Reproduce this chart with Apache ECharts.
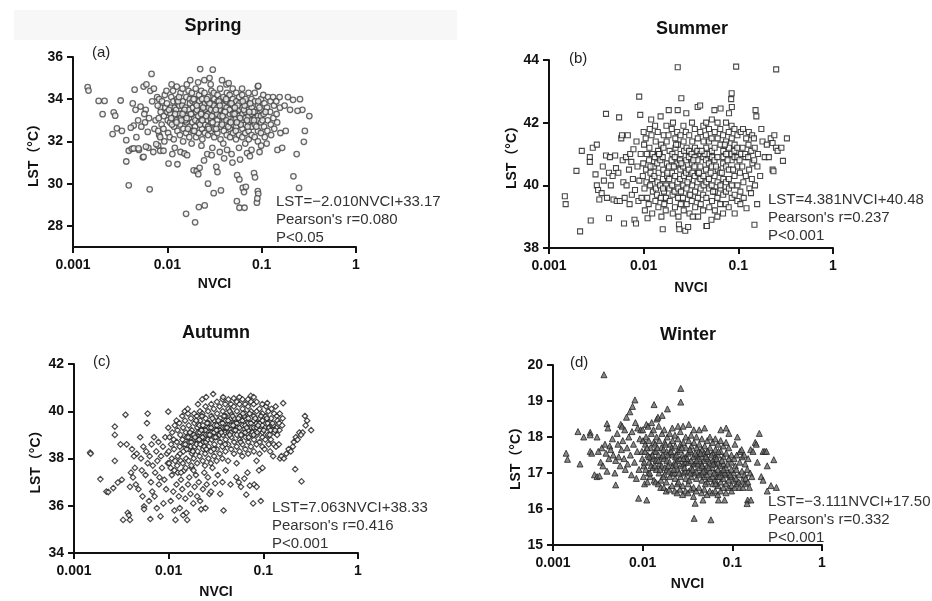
<!DOCTYPE html>
<html>
<head>
<meta charset="utf-8">
<title>LST vs NVCI by season</title>
<script src="https://cdn.jsdelivr.net/npm/echarts@6/dist/echarts.min.js"></script>
<style>html,body{margin:0;background:#fff}#chart{width:932px;height:601px}</style>
</head>
<body>
<div id="chart"></div>
<script>
// [NVCI, LST] pairs
const springPoints = [
  [0.00143,34.57],[0.00146,34.41],[0.00187,33.92],[0.00216,33.92],[0.00206,33.29],[0.00263,32.35],[0.0027,33.38],[0.0028,33.22],
  [0.00292,32.62],[0.0032,33.94],[0.0033,32.5],[0.00367,32.06],[0.00367,31.05],[0.0039,29.92],[0.0039,31.56],[0.0042,31.65],
  [0.0044,32.75],[0.0041,32.65],[0.0045,34.45],[0.0043,33.8],[0.0047,32.2],[0.005,31.6],[0.0052,33.65],[0.0055,31.25],
  [0.0056,34.6],[0.0058,32.9],[0.006,34.7],[0.0059,33.5],[0.0062,32.45],[0.0065,29.73],[0.0063,31.7],[0.0068,35.2],
  [0.0066,34.4],[0.0069,33.9],[0.0071,31.5],[0.0073,32.6],[0.0075,33.0],[0.0078,34.1],[0.008,31.8],[0.0082,32.3],
  [0.0085,33.6],[0.0049,33.0],[0.0053,32.7],[0.0057,33.3],[0.0044,31.67],[0.00495,31.67],[0.0056,31.27],[0.00593,31.75],
  [0.00763,31.87],[0.0084,31.56],[0.0091,31.56],[0.0046,33.5],[0.0064,33.1],[0.0072,34.5],
  [0.0079,33.7],[0.0081,33.1],[0.0080,32.5],[0.0082,34.0],
  [0.0085,33.4],[0.0087,32.8],[0.0088,33.9],[0.0084,32.2],
  [0.0092,33.2],[0.0094,34.2],[0.0091,32.6],[0.0095,33.6],[0.0093,32.0],
  [0.0099,33.8],[0.0101,33.0],[0.0102,32.4],[0.0098,34.4],[0.0100,33.4],
  [0.0107,32.9],[0.0109,33.6],[0.0110,34.1],[0.0106,32.2],[0.0108,33.3],[0.0111,34.7],
  [0.0116,33.9],[0.0118,32.7],[0.0119,33.2],[0.0115,34.4],[0.0117,32.1],[0.0120,33.6],
  [0.0125,33.0],[0.0127,34.0],[0.0128,32.5],[0.0124,33.5],[0.0126,34.6],[0.0129,33.8],
  [0.0135,33.3],[0.0137,32.8],[0.0138,34.3],[0.0134,33.7],[0.0136,32.3],[0.0139,33.1],
  [0.0146,33.9],[0.0148,32.6],[0.0149,33.4],[0.0145,34.5],[0.0147,32.0],[0.0150,33.0],[0.0144,33.7],
  [0.0157,33.2],[0.0159,34.1],[0.0160,32.9],[0.0156,33.6],[0.0158,32.4],[0.0161,34.7],[0.0155,33.0],
  [0.0170,33.5],[0.0172,32.7],[0.0173,34.0],[0.0169,33.1],[0.0171,32.2],[0.0174,33.8],[0.0168,34.4],
  [0.0183,33.3],[0.0185,33.9],[0.0186,32.5],[0.0182,34.3],[0.0184,32.9],[0.0187,33.6],[0.0181,31.9],
  [0.0198,33.0],[0.0200,34.5],[0.0201,33.4],[0.0197,32.7],[0.0199,33.8],[0.0202,32.2],[0.0196,34.0],
  [0.0214,33.6],[0.0216,32.9],[0.0217,34.2],[0.0213,33.2],[0.0215,32.4],[0.0218,33.9],[0.0212,34.8],
  [0.0231,33.4],[0.0233,32.6],[0.0234,34.0],[0.0230,33.0],[0.0232,33.7],[0.0235,32.1],[0.0229,34.4],
  [0.0249,33.1],[0.0251,33.8],[0.0252,32.8],[0.0248,34.3],[0.0250,32.4],[0.0253,33.5],[0.0247,34.9],
  [0.0269,33.3],[0.0271,32.7],[0.0272,34.1],[0.0268,33.9],[0.0270,32.3],[0.0273,33.6],[0.0267,33.0],
  [0.0290,33.5],[0.0292,32.9],[0.0293,34.4],[0.0289,33.1],[0.0291,32.5],[0.0294,33.8],[0.0288,34.7],
  [0.0313,33.2],[0.0315,34.0],[0.0316,32.6],[0.0312,33.7],[0.0314,32.2],[0.0317,33.4],[0.0311,34.3],
  [0.0338,33.0],[0.0340,33.6],[0.0341,34.2],[0.0337,32.8],[0.0339,32.4],[0.0342,33.9],[0.0336,33.3],
  [0.0365,33.5],[0.0367,32.7],[0.0368,34.0],[0.0364,33.2],[0.0366,32.1],[0.0369,33.8],[0.0363,34.5],
  [0.0394,33.1],[0.0396,33.7],[0.0397,32.5],[0.0393,34.1],[0.0395,32.9],[0.0398,33.4],[0.0392,31.9],
  [0.0425,33.6],[0.0427,32.8],[0.0428,34.3],[0.0424,33.0],[0.0426,32.3],[0.0429,33.9],[0.0423,34.7],
  [0.0459,33.3],[0.0461,32.6],[0.0462,33.8],[0.0458,34.2],[0.0460,32.9],[0.0463,32.2],[0.0457,33.5],
  [0.0495,33.0],[0.0497,33.7],[0.0498,32.4],[0.0494,34.0],[0.0496,33.3],[0.0499,32.8],[0.0493,34.5],
  [0.0534,33.4],[0.0536,32.7],[0.0537,33.9],[0.0533,33.1],[0.0535,32.1],[0.0538,34.3],[0.0532,32.5],
  [0.0577,33.2],[0.0579,33.8],[0.0580,32.9],[0.0576,32.3],[0.0578,34.1],[0.0581,33.5],[0.0575,31.7],
  [0.0622,33.0],[0.0624,33.6],[0.0625,32.6],[0.0621,34.2],[0.0623,32.2],[0.0626,33.3],[0.0620,34.5],
  [0.0672,33.4],[0.0674,32.8],[0.0675,33.9],[0.0671,32.4],[0.0673,33.1],[0.0676,34.0],[0.0670,31.9],
  [0.0725,33.2],[0.0727,33.7],[0.0728,32.5],[0.0724,32.9],[0.0726,34.3],[0.0729,32.1],[0.0723,33.5],
  [0.0782,33.0],[0.0784,33.6],[0.0785,32.7],[0.0781,34.0],[0.0783,32.3],[0.0786,33.3],[0.0780,31.6],
  [0.0844,33.4],[0.0846,32.8],[0.0847,33.9],[0.0843,32.2],[0.0845,34.3],[0.0848,33.1],
  [0.0911,33.2],[0.0913,33.7],[0.0914,32.5],[0.0910,34.6],[0.0912,32.0],[0.0915,33.0],
  [0.0983,33.5],[0.0985,32.9],[0.0986,34.0],[0.0982,32.4],[0.0984,33.2],[0.0987,31.8],
  [0.105,33.3],[0.107,33.8],[0.106,32.7],[0.108,32.2],[0.104,34.2],
  [0.114,33.6],[0.116,33.0],[0.115,32.5],[0.117,34.1],[0.113,31.9],
  [0.123,33.4],[0.125,32.8],[0.124,33.9],[0.126,32.3],
  [0.133,33.1],[0.135,33.7],[0.136,32.6],[0.132,34.1],
  [0.144,33.3],[0.146,32.9],[0.147,31.6],[0.143,33.9],
  [0.156,33.6],[0.158,32.4],[0.155,34.1],
  [0.175,33.7],[0.19,34.1],[0.20,33.5],[0.217,30.35],[0.235,31.4],[0.249,29.8],[0.255,34.0],[0.27,33.5],
  [0.287,32.5],[0.28,31.98],[0.32,33.2],[0.215,33.97],[0.24,33.45],[0.165,31.7],[0.18,32.5],
  [0.0103,30.95],[0.0113,31.4],[0.0128,30.92],[0.0138,31.5],[0.0152,31.43],[0.0162,31.35],[0.0158,28.57],[0.0197,28.17],
  [0.0216,28.89],[0.0249,28.97],[0.019,30.63],[0.0205,30.6],[0.0213,30.45],[0.022,30.75],[0.0245,31.1],[0.0265,31.4],
  [0.027,30.0],[0.031,29.55],[0.037,29.68],[0.0295,31.35],[0.033,30.8],[0.034,30.55],[0.036,31.5],[0.040,31.2],
  [0.043,31.6],[0.049,31.0],[0.0546,29.17],[0.0582,28.86],[0.0658,28.86],[0.055,30.4],[0.058,30.2],[0.063,29.8],
  [0.065,29.6],[0.068,29.85],[0.091,29.65],[0.092,29.52],[0.089,29.1],[0.090,29.3],[0.083,30.5],[0.085,30.3],
  [0.059,31.14],[0.07,31.45],[0.075,31.3],[0.095,31.5],[0.048,31.4],[0.012,31.7],[0.023,31.8],[0.030,31.7],
  [0.0223,35.43],[0.0303,35.4],[0.0447,34.76],[0.092,34.63],[0.0175,34.9],[0.028,35.0],[0.038,34.9]
];
const springCore = [
  [0.0104,33.5],[0.0112,32.8],[0.0121,33.3],[0.0130,33.9],[0.0141,33.0],[0.0152,33.5],[0.0165,32.6],[0.0178,33.3],
  [0.0190,34.0],[0.0206,33.5],[0.0222,32.8],[0.0240,33.6],[0.0258,33.2],[0.0280,33.8],[0.0302,32.9],[0.0326,33.5],
  [0.0352,33.9],[0.0380,32.8],[0.0410,33.4],[0.0443,32.7],[0.0478,33.8],[0.0515,33.3],[0.0556,33.7],[0.0600,32.8],
  [0.0648,33.5],[0.0700,33.0],[0.0755,33.8],[0.0815,33.4],[0.0878,32.7],[0.0948,33.6],[0.102,33.0],[0.110,33.4],
  [0.0110,33.1],[0.0133,34.1],[0.0160,33.1],[0.0193,32.5],[0.0228,33.3],[0.0262,34.0],[0.0297,33.2],[0.0330,32.6],
  [0.0360,33.7],[0.0420,34.0],[0.0470,32.9],[0.0520,33.6],[0.0590,33.1],[0.0660,33.7],[0.0740,33.4],[0.0830,33.0],
  [0.0920,33.9],[0.0125,32.9],[0.0145,33.3],[0.0205,33.7],[0.0235,33.0],[0.0275,32.6],[0.0385,33.2],[0.0545,32.9],
  [0.0630,33.9],[0.0710,32.7]
];

const summerPoints = [
  [0.00147,39.65],[0.00150,39.40],[0.00195,40.46],[0.00213,38.53],[0.00222,41.1],[0.0027,40.9],[0.0027,40.75],[0.00276,38.88],
  [0.0029,41.2],[0.0032,41.3],[0.0031,40.35],[0.0032,40.0],[0.0033,39.85],[0.0034,39.55],[0.0036,39.75],[0.0037,40.6],
  [0.0038,40.15],[0.0040,42.28],[0.0040,40.95],[0.0041,39.6],[0.0043,38.95],[0.0043,40.4],[0.0044,40.9],[0.0045,40.0],
  [0.0047,40.3],[0.0048,39.55],[0.0050,40.95],[0.0051,40.55],[0.0052,39.5],[0.0055,42.17],[0.0054,40.4],[0.0056,39.5],
  [0.0058,41.5],[0.0059,41.6],[0.0060,40.8],[0.0062,38.78],[0.0061,40.1],[0.0063,39.6],[0.0065,40.9],[0.0066,40.0],
  [0.0068,41.6],[0.0070,40.5],[0.0071,39.4],[0.0072,41.0],[0.0074,40.75],[0.0075,39.7],[0.0077,40.2],[0.0078,41.15],
  [0.0080,38.9],[0.0081,39.85],[0.0083,38.78],[0.0084,41.4],[0.0086,40.6],[0.0088,39.5],[0.00897,42.83],[0.0090,40.15],
  [0.0092,42.25],[0.0093,41.0],[0.0095,39.6],
  [0.0099,40.7],[0.0101,41.3],[0.0102,39.9],[0.0098,40.3],[0.0100,41.7],[0.0103,39.2],
  [0.0106,40.5],[0.0108,41.0],[0.0109,39.6],[0.0105,41.5],[0.0107,40.1],[0.0110,38.95],
  [0.0114,40.8],[0.0116,41.8],[0.0117,40.0],[0.0113,39.4],[0.0115,41.2],[0.0118,40.4],
  [0.0122,40.2],[0.0124,41.0],[0.0125,39.8],[0.0121,41.6],[0.0123,39.1],[0.0126,40.6],[0.0120,42.1],
  [0.0131,40.9],[0.0133,39.5],[0.0134,41.4],[0.0130,40.3],[0.0132,41.9],[0.0135,39.9],[0.0129,40.6],
  [0.0140,40.1],[0.0142,41.1],[0.0143,39.3],[0.0139,40.7],[0.0141,41.7],[0.0144,40.4],[0.0138,39.7],
  [0.0150,40.8],[0.0152,39.6],[0.0153,41.3],[0.0149,40.0],[0.0151,42.2],[0.0154,39.0],[0.0148,41.0],
  [0.0161,40.5],[0.0163,41.6],[0.0164,39.8],[0.0160,40.2],[0.0162,41.2],[0.0165,39.4],[0.0159,40.9],
  [0.0173,40.0],[0.0175,41.4],[0.0176,40.7],[0.0172,39.6],[0.0174,41.9],[0.0177,40.3],[0.0171,39.2],
  [0.0185,40.6],[0.0187,39.9],[0.0188,41.1],[0.0184,42.4],[0.0186,40.2],[0.0189,39.5],[0.0183,41.6],
  [0.0199,40.4],[0.0201,41.0],[0.0202,39.7],[0.0198,41.8],[0.0200,40.0],[0.0203,39.1],[0.0197,40.8],[0.0204,42.0],
  [0.0213,40.9],[0.0215,40.3],[0.0216,41.5],[0.0212,39.8],[0.0214,39.3],[0.0217,41.2],[0.0211,40.6],
  [0.0228,40.1],[0.0230,41.3],[0.0231,39.6],[0.0227,40.7],[0.0229,42.4],[0.0232,39.9],[0.0226,41.7],[0.0233,39.0],
  [0.0244,40.5],[0.0246,41.0],[0.0247,39.4],[0.0243,40.2],[0.0245,41.6],[0.0248,39.8],[0.0242,40.8],
  [0.0262,40.0],[0.0264,41.4],[0.0265,39.2],[0.0261,40.6],[0.0263,41.9],[0.0266,40.3],[0.0260,39.6],[0.0267,41.1],
  [0.0281,40.8],[0.0283,39.9],[0.0284,41.2],[0.0280,40.4],[0.0282,42.3],[0.0285,39.4],[0.0279,41.7],
  [0.0301,40.2],[0.0303,41.6],[0.0304,39.7],[0.0300,40.9],[0.0302,41.1],[0.0305,39.1],[0.0299,40.5],
  [0.0323,40.7],[0.0325,40.0],[0.0326,41.4],[0.0322,39.5],[0.0324,42.0],[0.0327,40.4],[0.0321,41.0],
  [0.0346,40.3],[0.0348,41.2],[0.0349,39.8],[0.0345,40.9],[0.0347,41.8],[0.0350,39.3],[0.0344,40.6],
  [0.0371,40.1],[0.0373,41.5],[0.0374,39.6],[0.0370,40.8],[0.0372,42.5],[0.0375,40.4],[0.0369,41.1],[0.0376,39.0],
  [0.0397,40.6],[0.0399,41.0],[0.0400,39.9],[0.0396,41.7],[0.0398,40.2],[0.0401,39.4],[0.0395,42.55],
  [0.0426,40.9],[0.0428,40.3],[0.0429,41.4],[0.0425,39.7],[0.0427,41.9],[0.0430,40.0],[0.0424,39.2],
  [0.0456,40.5],[0.0458,41.2],[0.0459,39.6],[0.0455,40.8],[0.0457,42.0],[0.0460,40.1],[0.0454,41.6],[0.0461,38.7],
  [0.0489,40.2],[0.0491,41.4],[0.0492,39.9],[0.0488,40.7],[0.0490,41.8],[0.0493,39.3],[0.0487,41.0],
  [0.0524,40.6],[0.0526,41.1],[0.0527,39.5],[0.0523,40.0],[0.0525,42.1],[0.0528,40.9],[0.0522,41.5],
  [0.0561,40.3],[0.0563,41.7],[0.0564,39.8],[0.0560,40.8],[0.0562,41.2],[0.0565,39.2],[0.0559,42.4],
  [0.0602,40.9],[0.0604,40.1],[0.0605,41.5],[0.0601,39.6],[0.0603,42.0],[0.0606,40.5],[0.0600,39.0],
  [0.0645,40.4],[0.0647,41.3],[0.0648,39.9],[0.0644,41.8],[0.0646,40.0],[0.0649,42.45],[0.0643,39.4],
  [0.0691,40.7],[0.0693,41.1],[0.0694,40.2],[0.0690,41.6],[0.0692,39.7],[0.0695,40.9],[0.0689,39.1],
  [0.0740,40.1],[0.0742,41.4],[0.0743,40.6],[0.0739,39.8],[0.0741,42.0],[0.0744,41.0],[0.0738,39.4],
  [0.0793,40.5],[0.0795,41.2],[0.0796,39.9],[0.0792,41.7],[0.0794,40.2],[0.0797,42.3],[0.0791,39.3],
  [0.0850,40.8],[0.0852,41.5],[0.0853,40.0],[0.0849,41.0],[0.0851,39.6],[0.0854,42.5],[0.0848,41.9],
  [0.0911,40.3],[0.0913,41.3],[0.0914,39.7],[0.0910,41.8],[0.0912,40.9],[0.0915,39.1],[0.0909,41.1],
  [0.0976,40.6],[0.0978,41.6],[0.0979,40.0],[0.0975,41.2],[0.0977,39.5],[0.0980,40.9],
  [0.104,40.4],[0.106,41.7],[0.105,39.8],[0.107,41.0],[0.103,40.8],[0.105,39.4],
  [0.111,41.2],[0.113,40.1],[0.112,41.8],[0.114,39.6],[0.110,40.6],
  [0.119,40.9],[0.121,41.5],[0.120,40.3],[0.122,39.27],[0.118,41.0],
  [0.128,41.3],[0.130,40.5],[0.129,41.7],[0.131,39.9],[0.127,40.9],
  [0.137,41.1],[0.139,40.2],[0.140,41.6],[0.136,39.75],[0.141,40.7],
  [0.147,40.8],[0.149,41.2],[0.148,38.74],[0.150,40.0],[0.146,41.5],
  [0.159,40.6],[0.161,41.0],[0.155,42.2],[0.152,42.4],[0.158,39.4],
  [0.18,41.4],[0.19,40.9],[0.20,41.3],[0.21,40.9],[0.22,41.5],[0.23,41.35],[0.24,41.6],[0.23,40.5],
  [0.235,40.45],[0.25,41.2],[0.26,41.1],[0.285,41.2],[0.296,40.78],[0.326,41.5],[0.251,43.70],[0.17,40.3],[0.175,41.8],
  [0.0229,43.77],[0.0948,43.79],[0.085,42.94],[0.084,42.75],[0.025,42.78],
  [0.0159,38.6],[0.0236,38.75],[0.0238,38.6],[0.0275,38.55],[0.0295,38.67],[0.0465,38.7],[0.033,39.0],[0.052,38.9]
];
const summerCore = [
  [0.0118,40.6],[0.0145,41.0],[0.0178,40.4],[0.0208,40.6],[0.0250,40.7],[0.0290,40.1],[0.0335,40.8],[0.0385,40.4],
  [0.0440,41.0],[0.0510,40.4],[0.0580,40.6],[0.0670,40.4],[0.0770,40.8],[0.0880,40.5],[0.0160,39.9],[0.0220,41.3],
  [0.0310,39.7],[0.0410,41.1],[0.0540,39.8],[0.0720,41.3]
];

const autumnPoints = [
  [0.00148,38.25],[0.0015,38.2],[0.0019,37.13],[0.0022,36.6],[0.0023,36.58],[0.0027,39.35],[0.0027,39.0],[0.0027,37.9],
  [0.0026,36.75],[0.0029,36.98],[0.0031,38.6],[0.0032,37.1],[0.0033,35.4],[0.0035,39.85],[0.0036,38.6],[0.0037,35.7],
  [0.0039,35.4],[0.0038,35.6],[0.0039,36.8],[0.0040,37.4],[0.0041,38.4],[0.0042,37.2],[0.0043,38.1],[0.0044,37.6],
  [0.0045,36.9],[0.0046,38.2],[0.0048,36.7],[0.0050,38.9],[0.0051,38.0],[0.0052,37.5],[0.0053,36.4],[0.0054,38.5],
  [0.0055,35.97],[0.0055,35.86],[0.0057,37.3],[0.0058,38.3],[0.0059,39.5],[0.0060,39.9],[0.0060,37.8],[0.0062,36.2],
  [0.0063,38.1],[0.0064,35.44],[0.0065,37.0],[0.0066,38.6],[0.0067,36.6],[0.0068,37.7],[0.0070,38.9],[0.0071,36.4],
  [0.0072,37.4],[0.0074,38.3],[0.0075,35.9],[0.0076,37.9],[0.0078,38.7],[0.0079,36.9],[0.0080,37.2],[0.0082,35.55],
  [0.0083,38.1],[0.0085,37.6],[0.0087,38.5],[0.0088,36.1],[0.0090,37.1],[0.0092,38.9],[0.0094,36.7],[0.0096,38.2],
  [0.0099,39.98],[0.0098,37.8],
  [0.0105,36.2],[0.0108,37.3],[0.0112,36.6],[0.0115,35.8],[0.0118,35.4],[0.0121,36.9],[0.0125,37.4],[0.0128,36.4],
  [0.0131,35.9],[0.0135,37.1],[0.0139,36.7],[0.0142,35.6],[0.0146,37.5],[0.0150,36.3],[0.0154,35.7],[0.0157,35.4],
  [0.0160,36.9],[0.0165,37.2],[0.0170,36.5],[0.0176,37.6],[0.0182,36.1],[0.0188,36.8],[0.0194,37.3],[0.0200,36.4],
  [0.0208,37.0],[0.0215,36.2],[0.0220,35.85],[0.0230,36.7],[0.0238,37.4],[0.0245,35.9],[0.0252,36.9],[0.026,37.2],
  [0.027,36.5],[0.028,36.6],[0.029,37.6],[0.031,36.95],[0.033,37.3],[0.035,36.5],[0.038,35.8],[0.037,37.0],
  [0.040,37.5],[0.045,36.9],[0.052,37.2],[0.055,37.0],[0.058,36.8],[0.063,37.15],[0.066,36.47],[0.068,37.4],
  [0.072,36.85],[0.078,36.1],[0.080,36.9],[0.085,36.8],[0.094,36.2],[0.090,37.5],[0.098,37.6],
  [0.0100,38.3],[0.0102,38.9],[0.0101,37.8],[0.0099,39.3],
  [0.0106,38.6],[0.0108,38.0],[0.0109,39.1],[0.0105,37.6],
  [0.0114,38.4],[0.0116,39.4],[0.0117,37.9],[0.0113,38.8],[0.0115,37.5],
  [0.0122,38.7],[0.0124,39.2],[0.0125,38.1],[0.0121,39.6],[0.0123,37.7],
  [0.0131,38.5],[0.0133,39.0],[0.0134,37.9],[0.0130,39.5],[0.0132,38.2],[0.0135,37.4],
  [0.0140,38.8],[0.0142,39.3],[0.0143,38.3],[0.0139,39.8],[0.0141,37.8],[0.0144,38.6],
  [0.0150,38.6],[0.0152,39.1],[0.0153,38.0],[0.0149,39.6],[0.0151,37.6],[0.0154,38.9],[0.0148,40.0],
  [0.0161,38.9],[0.0163,39.4],[0.0164,38.4],[0.0160,39.9],[0.0162,37.9],[0.0165,38.7],[0.0159,40.1],
  [0.0173,38.7],[0.0175,39.2],[0.0176,38.2],[0.0172,39.7],[0.0174,37.7],[0.0177,39.0],[0.0171,38.5],
  [0.0185,39.0],[0.0187,39.5],[0.0188,38.5],[0.0184,38.0],[0.0186,39.9],[0.0189,38.8],[0.0183,37.5],
  [0.0199,38.8],[0.0201,39.3],[0.0202,38.3],[0.0198,39.8],[0.0200,37.8],[0.0203,39.1],[0.0197,38.6],[0.0204,40.3],
  [0.0213,39.1],[0.0215,39.6],[0.0216,38.6],[0.0212,38.1],[0.0214,40.0],[0.0217,38.9],[0.0211,39.4],
  [0.0228,38.9],[0.0230,39.4],[0.0231,38.4],[0.0227,39.9],[0.0229,37.9],[0.0232,39.2],[0.0226,40.5],[0.0233,38.7],
  [0.0244,39.2],[0.0246,39.7],[0.0247,38.7],[0.0243,38.2],[0.0245,40.2],[0.0248,39.0],[0.0242,37.7],[0.0249,40.6],
  [0.0262,39.0],[0.0264,39.5],[0.0265,38.5],[0.0261,40.0],[0.0263,38.0],[0.0266,39.3],[0.0260,38.8],
  [0.0281,39.3],[0.0283,39.8],[0.0284,38.8],[0.0280,38.3],[0.0282,40.3],[0.0285,39.1],[0.0279,37.8],
  [0.0301,39.1],[0.0303,39.6],[0.0304,38.6],[0.0300,40.1],[0.0302,38.1],[0.0305,39.4],[0.0295,40.73],[0.0299,38.9],
  [0.0323,39.4],[0.0325,39.9],[0.0326,38.9],[0.0322,38.4],[0.0324,40.4],[0.0327,39.2],[0.0321,37.9],
  [0.0346,39.2],[0.0348,39.7],[0.0349,38.7],[0.0345,40.2],[0.0347,38.2],[0.0350,39.5],[0.0344,39.0],
  [0.0371,39.5],[0.0373,40.0],[0.0374,39.0],[0.0370,38.5],[0.0372,40.5],[0.0375,39.3],[0.0369,38.0],[0.0376,40.6],
  [0.0397,39.3],[0.0399,39.8],[0.0400,38.8],[0.0396,40.3],[0.0398,38.3],[0.0401,39.6],[0.0395,39.1],
  [0.0426,39.6],[0.0428,40.1],[0.0429,39.1],[0.0425,38.6],[0.0427,40.5],[0.0430,39.4],[0.0424,37.9],
  [0.0456,39.4],[0.0458,39.9],[0.0459,38.9],[0.0455,40.3],[0.0457,38.4],[0.0460,39.7],[0.0454,39.1],
  [0.0489,39.2],[0.0491,39.7],[0.0492,38.7],[0.0488,40.2],[0.0490,38.2],[0.0493,39.5],[0.0487,40.55],
  [0.0524,39.5],[0.0526,40.0],[0.0527,39.0],[0.0523,38.5],[0.0525,40.4],[0.0528,39.3],[0.0522,37.8],
  [0.0561,39.3],[0.0563,39.8],[0.0564,38.8],[0.0560,40.3],[0.0562,38.3],[0.0565,39.6],[0.0559,40.6],
  [0.0602,39.6],[0.0604,40.1],[0.0605,39.1],[0.0601,38.6],[0.0603,40.5],[0.0606,39.4],[0.0600,38.1],
  [0.0645,39.4],[0.0647,39.9],[0.0648,38.9],[0.0644,40.3],[0.0646,38.4],[0.0649,39.7],[0.0643,39.1],
  [0.0691,39.2],[0.0693,39.7],[0.0694,38.7],[0.0690,40.2],[0.0692,38.2],[0.0695,39.5],[0.0689,40.5],
  [0.0740,39.5],[0.0742,40.0],[0.0743,39.0],[0.0739,38.5],[0.0741,40.4],[0.0744,39.3],[0.0738,40.65],
  [0.0793,39.3],[0.0795,39.8],[0.0796,38.8],[0.0792,40.3],[0.0794,38.3],[0.0797,39.6],[0.0791,40.6],
  [0.0850,39.5],[0.0852,40.0],[0.0853,39.0],[0.0849,38.6],[0.0851,40.4],[0.0854,39.3],[0.0848,37.9],
  [0.0911,39.2],[0.0913,39.7],[0.0914,38.7],[0.0910,40.1],[0.0912,38.2],[0.0915,39.5],
  [0.0976,39.4],[0.0978,39.9],[0.0979,38.9],[0.0975,40.3],[0.0977,38.5],[0.0980,39.1],
  [0.104,39.3],[0.106,39.8],[0.105,38.8],[0.107,40.2],[0.103,38.4],[0.108,39.6],
  [0.111,39.5],[0.113,40.0],[0.112,39.0],[0.114,38.6],[0.110,40.35],[0.115,39.3],
  [0.119,39.2],[0.121,39.7],[0.120,38.8],[0.122,40.1],[0.118,38.3],[0.123,39.4],
  [0.128,39.4],[0.130,39.9],[0.129,38.6],[0.131,39.1],[0.127,38.1],
  [0.137,39.3],[0.139,39.8],[0.140,39.0],[0.136,38.5],[0.141,39.6],[0.135,40.2],
  [0.147,39.5],[0.149,39.9],[0.148,39.2],[0.150,38.0],[0.146,38.6],
  [0.162,40.34],[0.158,39.4],[0.155,38.1],[0.165,38.0],[0.160,39.7],
  [0.175,38.2],[0.185,38.4],[0.195,38.3],[0.205,38.5],[0.21,38.7],[0.217,37.55],[0.22,38.9],[0.23,38.8],
  [0.24,39.1],[0.253,37.03],[0.26,39.1],[0.275,39.8],[0.28,39.4],[0.29,39.6],[0.32,39.2],[0.25,39.0]
];
const autumnCore = [
  [0.0155,38.4],[0.0168,39.1],[0.0180,38.3],[0.0195,39.6],[0.0210,38.8],[0.0222,39.2],[0.0238,38.5],[0.0255,39.5],
  [0.0272,39.0],[0.0290,39.7],[0.0312,38.9],[0.0335,39.6],[0.0360,39.1],[0.0385,39.8],[0.0413,39.3],[0.0442,39.0],
  [0.0473,39.8],[0.0508,39.2],[0.0545,39.7],[0.0582,39.0],[0.0625,39.8],[0.0668,39.3],[0.0717,39.9],[0.0768,39.1],
  [0.0822,39.7],[0.0880,39.4],[0.0945,39.8],[0.101,39.2],[0.109,39.7],[0.117,39.0],[0.125,39.5],[0.133,39.2],
  [0.0190,38.9],[0.0250,38.4],[0.0320,39.2],[0.0395,38.6],[0.0480,39.4],[0.0575,38.7],[0.0700,38.9],[0.0860,39.1],
  [0.0225,39.8],[0.0300,38.4],[0.0440,40.0],[0.0610,39.9],[0.0790,39.0],[0.0980,39.6]
];

const winterPoints = [
  [0.0014,17.55],[0.00145,17.38],[0.0019,18.15],[0.002,17.25],[0.0022,18.0],[0.0026,18.13],[0.0026,18.06],[0.0026,17.6],
  [0.0027,17.55],[0.0029,16.95],[0.0031,16.9],[0.0033,16.92],[0.0031,18.0],[0.0032,17.6],[0.0034,17.3],[0.0035,17.7],
  [0.0036,17.2],[0.0037,19.73],[0.0038,17.8],[0.0039,17.55],[0.0040,18.37],[0.0041,18.25],[0.0040,17.05],[0.0042,17.4],
  [0.0043,17.75],[0.0044,17.65],[0.0046,17.95],[0.0047,17.5],[0.0049,17.0],[0.0050,16.67],[0.0050,17.35],[0.0052,18.1],
  [0.0053,17.8],[0.0054,17.45],[0.0056,17.2],[0.0057,18.35],[0.0058,17.65],[0.0059,18.3],[0.0060,17.9],[0.0062,17.4],
  [0.0063,18.2],[0.0064,17.1],[0.0066,18.55],[0.0067,17.7],[0.0068,17.25],[0.0070,18.0],[0.0072,18.7],[0.0073,17.5],
  [0.0075,16.95],[0.0076,18.15],[0.0077,18.85],[0.0079,17.8],[0.0082,19.03],[0.0081,17.3],[0.0083,18.4],[0.0085,16.85],
  [0.0087,17.6],[0.0088,18.25],[0.0090,16.3],[0.0091,17.1],[0.0093,17.95],[0.0095,18.2],
  [0.0099,17.4],[0.0101,17.9],[0.0102,16.9],[0.0098,17.6],[0.0100,18.2],[0.0103,17.2],
  [0.0106,17.6],[0.0108,17.1],[0.0109,18.0],[0.0105,16.7],[0.0107,17.8],[0.0110,18.35],
  [0.0114,17.5],[0.0116,17.0],[0.0117,17.9],[0.0113,16.75],[0.0115,18.3],[0.0111,16.25],[0.0118,17.3],
  [0.0122,17.7],[0.0124,17.2],[0.0125,18.1],[0.0121,16.9],[0.0123,17.45],[0.0126,18.4],
  [0.0131,17.4],[0.0133,17.85],[0.0134,16.8],[0.0130,17.15],[0.0132,18.2],[0.0135,17.6],[0.0134,18.9],
  [0.0140,17.6],[0.0142,17.1],[0.0143,18.0],[0.0139,16.75],[0.0141,17.35],[0.0144,18.5],[0.0138,17.8],
  [0.0150,17.5],[0.0152,17.0],[0.0153,17.9],[0.0149,16.7],[0.0151,18.3],[0.0154,17.25],[0.0148,18.55],
  [0.0161,17.7],[0.0163,17.2],[0.0164,18.1],[0.0160,16.8],[0.0162,17.45],[0.0165,18.6],[0.0159,16.6],
  [0.0173,17.4],[0.0175,16.95],[0.0176,17.85],[0.0172,16.6],[0.0174,18.2],[0.0177,17.15],[0.0171,17.65],
  [0.0185,17.6],[0.0187,17.1],[0.0188,18.0],[0.0184,16.75],[0.0186,17.35],[0.0189,18.78],[0.0183,16.5],
  [0.0199,17.3],[0.0201,16.9],[0.0202,17.8],[0.0198,16.55],[0.0200,18.1],[0.0203,17.55],[0.0197,17.05],
  [0.0213,17.5],[0.0215,17.0],[0.0216,17.9],[0.0212,16.65],[0.0214,18.25],[0.0217,17.2],[0.0211,17.7],
  [0.0228,17.3],[0.0230,16.85],[0.0231,17.75],[0.0227,16.5],[0.0229,18.05],[0.0232,17.45],[0.0226,17.0],
  [0.0244,17.6],[0.0246,17.1],[0.0247,17.95],[0.0243,16.7],[0.0245,17.35],[0.0248,18.3],[0.0242,16.45],
  [0.0262,17.4],[0.0264,16.9],[0.0265,17.8],[0.0261,16.55],[0.0263,18.15],[0.0266,17.2],[0.0266,19.35],[0.0266,18.97],[0.0260,17.65],
  [0.0281,17.5],[0.0283,17.0],[0.0284,17.85],[0.0280,16.65],[0.0282,18.3],[0.0285,17.25],[0.0279,16.4],
  [0.0301,17.3],[0.0303,16.85],[0.0304,17.7],[0.0300,16.5],[0.0302,18.0],[0.0305,17.45],[0.0299,17.05],
  [0.0323,17.55],[0.0325,17.05],[0.0326,17.9],[0.0322,16.7],[0.0324,17.3],[0.0327,18.35],[0.0321,16.45],
  [0.0346,17.35],[0.0348,16.9],[0.0349,17.75],[0.0345,16.55],[0.0347,18.05],[0.0350,17.15],[0.0344,17.6],
  [0.0371,17.45],[0.0373,17.0],[0.0374,17.85],[0.0370,16.6],[0.0372,18.2],[0.0375,17.25],[0.0375,15.74],[0.0369,16.35],
  [0.0397,17.3],[0.0399,16.85],[0.0400,17.7],[0.0396,16.5],[0.0398,18.0],[0.0401,17.5],[0.0385,16.16],[0.0395,17.05],
  [0.0426,17.4],[0.0428,16.95],[0.0429,17.8],[0.0425,16.6],[0.0427,18.2],[0.0430,17.15],[0.0424,17.6],
  [0.0456,17.25],[0.0458,16.8],[0.0459,17.65],[0.0455,16.45],[0.0457,17.95],[0.0460,17.45],[0.047,16.25],[0.0454,17.0],
  [0.0489,17.35],[0.0491,16.9],[0.0492,17.75],[0.0488,16.55],[0.0490,18.25],[0.0493,17.1],[0.0487,17.55],
  [0.0524,17.2],[0.0526,16.75],[0.0527,17.6],[0.0523,16.4],[0.0525,17.9],[0.0528,17.4],[0.0522,16.95],
  [0.0561,17.3],[0.0563,16.85],[0.0564,17.7],[0.0560,16.5],[0.0562,18.0],[0.0565,17.05],[0.0577,15.7],
  [0.0602,17.15],[0.0604,16.7],[0.0605,17.55],[0.0601,16.45],[0.0603,17.85],[0.0606,17.35],[0.0600,16.9],
  [0.0645,17.25],[0.0647,16.8],[0.0648,17.65],[0.0644,16.5],[0.0646,17.95],[0.0649,17.0],[0.0643,17.45],
  [0.0691,17.1],[0.0693,16.65],[0.0694,17.5],[0.0690,16.4],[0.0692,17.8],[0.0695,17.3],[0.0700,16.25],[0.0689,16.9],
  [0.0740,17.2],[0.0742,16.75],[0.0743,17.6],[0.0739,16.5],[0.0741,17.9],[0.0744,18.2],[0.0738,17.0],
  [0.0793,17.05],[0.0795,16.6],[0.0796,17.45],[0.0792,16.85],[0.0794,17.75],[0.0797,17.25],[0.082,16.25],
  [0.0850,17.15],[0.0852,16.7],[0.0853,17.55],[0.0849,16.45],[0.0851,17.85],[0.0854,18.25],[0.0848,16.95],
  [0.0911,17.0],[0.0913,16.6],[0.0914,17.4],[0.0910,16.8],[0.0912,17.7],[0.0915,18.1],
  [0.0976,17.1],[0.0978,16.65],[0.0979,17.5],[0.0975,16.9],[0.0977,17.3],[0.0980,16.5],
  [0.104,17.0],[0.106,16.6],[0.105,17.4],[0.107,17.8],[0.103,16.8],[0.108,17.2],
  [0.111,17.1],[0.113,16.7],[0.112,17.5],[0.114,18.0],[0.110,16.85],
  [0.119,16.95],[0.121,17.3],[0.120,16.6],[0.122,17.6],[0.118,16.75],
  [0.128,17.05],[0.130,16.8],[0.129,17.45],[0.131,16.6],[0.127,17.65],
  [0.137,16.95],[0.139,17.25],[0.140,16.7],[0.136,17.5],[0.141,16.85],
  [0.147,17.1],[0.149,16.75],[0.148,16.25],[0.150,17.4],[0.146,16.15],
  [0.161,16.25],[0.158,17.0],[0.155,16.6],[0.165,16.9],[0.160,17.65],
  [0.17,17.6],[0.18,17.85],[0.185,17.8],[0.20,18.1],[0.22,17.6],[0.23,17.6],[0.24,17.6],[0.245,17.2],
  [0.29,17.37],[0.21,16.9],[0.22,16.8],[0.245,16.5],[0.27,16.65],[0.31,16.6],[0.19,17.3]
];
const winterCore = [
  [0.0104,17.3],[0.0112,17.7],[0.0120,17.0],[0.0128,17.5],[0.0137,17.2],[0.0146,17.7],[0.0156,17.1],[0.0168,17.5],
  [0.0180,17.8],[0.0193,17.2],[0.0207,17.6],[0.0222,17.1],[0.0238,17.5],[0.0255,17.0],[0.0273,17.7],[0.0292,17.15],
  [0.0313,17.4],[0.0336,17.65],[0.0360,17.1],[0.0386,17.55],[0.0413,17.25],[0.0443,17.55],[0.0475,17.05],[0.0508,17.45],
  [0.0545,17.15],[0.0584,17.5],[0.0625,17.0],[0.0670,17.4],[0.0718,16.9],[0.0770,17.35],[0.0825,17.0],[0.0884,17.25],
  [0.0948,16.95],[0.0118,17.45],[0.0150,17.35],[0.0190,17.5],[0.0235,17.25],[0.0285,17.4],[0.0340,17.0],[0.0400,17.35],
  [0.0460,17.2],[0.0530,17.6],[0.0610,17.25],[0.0700,17.6],[0.0800,17.1],[0.0170,16.9],[0.0250,16.75],[0.0330,16.8],
  [0.0500,16.7],[0.0650,16.7]
];

const seasonNames = ['Spring', 'Summer', 'Autumn', 'Winter'];
const panelTags = ['(a)', '(b)', '(c)', '(d)'];
const fitLines = [
  ['LST=\u22122.010NVCI+33.17', "Pearson's r=0.080", 'P<0.05'],
  ['LST=4.381NVCI+40.48', "Pearson's r=0.237", 'P<0.001'],
  ['LST=7.063NVCI+38.33', "Pearson's r=0.416", 'P<0.001'],
  ['LST=\u22123.111NVCI+17.50', "Pearson's r=0.332", 'P<0.001']
];
const xTickLabels = ['0.001', '0.01', '0.1', '1'];
const yTicks = [
  [28, 30, 32, 34, 36],
  [38, 40, 42, 44],
  [34, 36, 38, 40, 42],
  [15, 16, 17, 18, 19, 20]
];
const yMins = [27, 38, 34, 15];

const FONT = '"Liberation Sans", Arial, "Noto Sans CJK SC", sans-serif';

// layout of the four panels
const panels = [
  { grid: { left: 73, top: 57, width: 283, height: 190 }, title: [213, 26], tag: [92, 53], fit: [276, 193], yGap: 32, xGap: 30,
    symbol: 'circle', size: 5.5, style: { color: '#f2f2f2', borderColor: '#444', borderWidth: 1.3 } },
  { grid: { left: 549, top: 60, width: 284, height: 188 }, title: [692, 29], tag: [569, 59], fit: [768, 191], yGap: 30, xGap: 33,
    symbol: 'rect', size: 5, style: { color: '#ffffff', borderColor: '#1a1a1a', borderWidth: 1.1 } },
  { grid: { left: 74, top: 364, width: 284, height: 189 }, title: [216, 333], tag: [93, 362], fit: [272, 499], yGap: 31, xGap: 32,
    symbol: 'diamond', size: 5.5, style: { color: '#ffffff', borderColor: '#1a1a1a', borderWidth: 1.2 } },
  { grid: { left: 553, top: 365, width: 269, height: 180 }, title: [688, 335], tag: [570, 363], fit: [768, 493], yGap: 29, xGap: 32,
    symbol: 'triangle', size: 6, style: { color: '#6a6a6a', borderColor: '#222', borderWidth: 1 } }
];
const seriesData = [
  springPoints.concat(springCore),
  summerPoints.concat(summerCore),
  autumnPoints.concat(autumnCore),
  winterPoints.concat(winterCore)
];

const axisLine = { lineStyle: { color: '#111', width: 2 } };
const axisTick = { length: 6, lineStyle: { color: '#111', width: 2 } };

const option = {
  animation: false,
  backgroundColor: '#fff',
  grid: panels.map(p => p.grid),
  xAxis: panels.map((p, i) => ({
    gridIndex: i, type: 'log', logBase: 10, min: 0.001, max: 1,
    name: 'NVCI', nameLocation: 'middle', nameGap: p.xGap,
    nameTextStyle: { fontFamily: FONT, fontWeight: 'bold', fontSize: 14, color: '#111' },
    axisLine: axisLine, axisTick: axisTick,
    axisLabel: { fontFamily: FONT, fontWeight: 'bold', fontSize: 14, color: '#111', margin: 11,
      formatter: v => xTickLabels[Math.round(Math.log10(v)) + 3] },
    splitLine: { show: false }, minorTick: { show: false }
  })),
  yAxis: panels.map((p, i) => ({
    gridIndex: i, type: 'value', min: yMins[i], max: yTicks[i][yTicks[i].length - 1],
    name: 'LST\uff08\u00b0C\uff09', nameLocation: 'middle', nameGap: p.yGap, nameRotate: 90,
    nameTextStyle: { fontFamily: FONT, fontWeight: 'bold', fontSize: 14, color: '#111' },
    axisLine: { show: true, lineStyle: axisLine.lineStyle },
    axisTick: { show: true, length: 6, lineStyle: axisTick.lineStyle, customValues: yTicks[i] },
    axisLabel: { fontFamily: FONT, fontWeight: 'bold', fontSize: 14, color: '#111', margin: 10, customValues: yTicks[i] },
    splitLine: { show: false }
  })),
  series: panels.map((p, i) => ({
    type: 'scatter', xAxisIndex: i, yAxisIndex: i,
    data: seriesData[i], symbol: p.symbol, symbolSize: p.size,
    itemStyle: p.style, silent: true
  })),
  graphic: []
};

// faint band behind the first title
option.graphic.push({ type: 'rect', shape: { x: 14, y: 10, width: 443, height: 30 }, style: { fill: '#f7f7f7' } });

panels.forEach((p, i) => {
  option.graphic.push({
    type: 'text', x: p.title[0], y: p.title[1],
    style: { text: seasonNames[i], font: 'bold 18px ' + FONT, fill: '#111',
      align: 'center', verticalAlign: 'middle', textAlign: 'center', textVerticalAlign: 'middle' }
  });
  option.graphic.push({
    type: 'text', x: p.tag[0], y: p.tag[1],
    style: { text: panelTags[i], font: '15px ' + FONT, fill: '#222',
      align: 'left', verticalAlign: 'middle', textAlign: 'left', textVerticalAlign: 'middle' }
  });
  option.graphic.push({
    type: 'text', x: p.fit[0], y: p.fit[1],
    style: { text: fitLines[i].join('\n'), font: '15px ' + FONT, fill: '#333', lineHeight: 18,
      align: 'left', verticalAlign: 'top', textAlign: 'left', textVerticalAlign: 'top' }
  });
});

const chart = echarts.init(document.getElementById('chart'), null, { renderer: 'canvas' });
chart.setOption(option);
</script>
</body>
</html>
